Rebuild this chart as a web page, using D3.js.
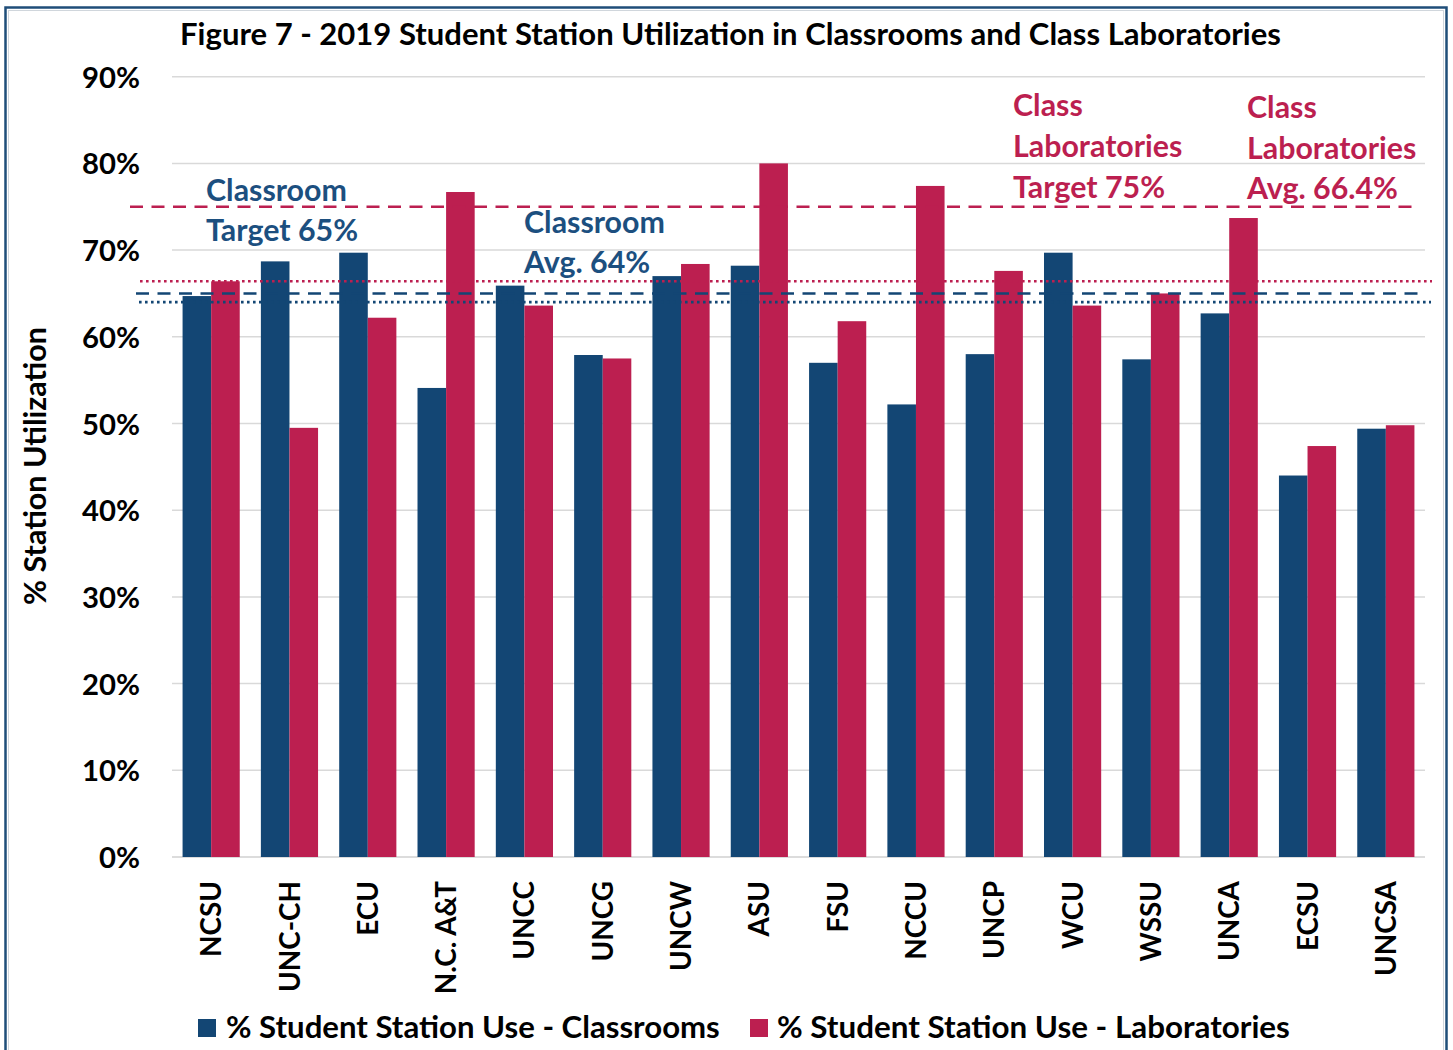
<!DOCTYPE html>
<html>
<head>
<meta charset="utf-8">
<script src="https://cdn.jsdelivr.net/npm/d3@7"></script>
<style>
  html, body { margin: 0; padding: 0; background: #fff; }
  svg text { font-family: Lato, "Open Sans", sans-serif; font-weight: 700; }
</style>
</head>
<body>
<svg id="chart" width="1453" height="1050"></svg>
<script>
const categories = ["NCSU","UNC-CH","ECU","N.C. A&T","UNCC","UNCG","UNCW","ASU","FSU","NCCU","UNCP","WCU","WSSU","UNCA","ECSU","UNCSA"];
const classrooms = [64.7, 68.7, 69.7, 54.1, 65.9, 57.9, 67.0, 68.2, 57.0, 52.2, 58.0, 69.7, 57.4, 62.7, 44.0, 49.4];
const laboratories = [66.4, 49.5, 62.2, 76.7, 63.6, 57.5, 68.4, 80.0, 61.8, 77.4, 67.6, 63.6, 65.0, 73.7, 47.4, 49.8];
const yTicks = [0, 10, 20, 30, 40, 50, 60, 70, 80, 90];
const seriesNames = ["% Student Station Use - Classrooms", "% Student Station Use - Laboratories"];
const refValues = { classroomTarget: 65, classroomAvg: 64, labTarget: 75, labAvg: 66.4 };
const annotations = [
  { lines: ["Classroom", "Target 65%"], color: "blue" },
  { lines: ["Classroom", "Avg. 64%"], color: "blue" },
  { lines: ["Class", "Laboratories", "Target 75%"], color: "red" },
  { lines: ["Class", "Laboratories", "Avg. 66.4%"], color: "red" }
];

const BLUE = "#134674", RED = "#BC1F50", BLUE_TXT = "#1C4F7F", RED_TXT = "#BC1F50";
const svg = d3.select("#chart");

function fit(sel, target) {
  const node = sel.node();
  const fs = parseFloat(sel.attr("font-size"));
  const w = node.getComputedTextLength();
  sel.attr("font-size", fs * target / w);
  return fs * target / w;
}

// frame
svg.append("rect").attr("x", 5.5).attr("y", 7.5).attr("width", 1441).attr("height", 1060)
  .attr("fill", "none").attr("stroke", "#1F4E79").attr("stroke-width", 2.5);
svg.append("rect").attr("x", 8.5).attr("y", 10.5).attr("width", 1435).attr("height", 1060)
  .attr("fill", "none").attr("stroke", "#d0d6dc").attr("stroke-width", 1);

const x0 = 172, x1 = 1425;
const y = d3.scaleLinear().domain([0, 90]).range([857, 76.7]);
const x = d3.scaleBand().domain(categories).range([x0, x1]).paddingInner(0.27).paddingOuter(0.135);
const xs = d3.scaleBand().domain([0, 1]).range([0, x.bandwidth()]);

// title
const title = svg.append("text").attr("x", 730.5).attr("y", 45).attr("text-anchor", "middle")
  .attr("font-size", 28).attr("fill", "#000")
  .text("Figure 7 - 2019 Student Station Utilization in Classrooms and Class Laboratories");
fit(title, 1101);

// gridlines
svg.append("g").selectAll("line").data(yTicks).join("line")
  .attr("x1", x0).attr("x2", x1).attr("y1", d => y(d)).attr("y2", d => y(d))
  .attr("stroke", d => d === 0 ? "#d0d0d0" : "#d9d9d9").attr("stroke-width", 1.5);

// y axis labels
const yAxis = svg.append("g").attr("transform", `translate(140,0)`)
  .call(d3.axisLeft(y).tickValues(yTicks).tickFormat(d => d + "%").tickSize(0).tickPadding(0));
yAxis.select(".domain").remove();
yAxis.selectAll("text").attr("font-family", "Lato").attr("font-weight", 700).attr("fill", "#000")
  .attr("font-size", 30).attr("dy", "0.36em");
const t90 = yAxis.selectAll("text").filter(d => d === 90);
const tickFs = fit(t90, 58);
yAxis.selectAll("text").attr("font-size", tickFs);

// y title
const ytitle = svg.append("text").attr("transform", "translate(46,466) rotate(-90)")
  .attr("text-anchor", "middle").attr("font-size", 26).attr("fill", "#000").text("% Station Utilization");
fit(ytitle, 278);

// bars
const groups = svg.append("g").selectAll("g").data(categories).join("g")
  .attr("transform", d => `translate(${x(d)},0)`);
groups.append("rect").attr("x", xs(0)).attr("width", xs.bandwidth())
  .attr("y", (d, i) => y(classrooms[i])).attr("height", (d, i) => y(0) - y(classrooms[i])).attr("fill", BLUE);
groups.append("rect").attr("x", xs(1)).attr("width", xs.bandwidth())
  .attr("y", (d, i) => y(laboratories[i])).attr("height", (d, i) => y(0) - y(laboratories[i])).attr("fill", RED);

// x labels
const xl = svg.append("g").selectAll("text").data(categories).join("text")
  .attr("text-anchor", "end").attr("font-size", 26).attr("fill", "#000").text(d => d);
const xfs = fit(xl.filter(d => d === "NCSU"), 76);
xl.attr("font-size", xfs)
  .attr("transform", d => `translate(${x(d) + x.bandwidth() / 2 + xfs * 0.36},881) rotate(-90)`);

// reference lines
const refs = [
  { v: refValues.labTarget, c: RED, dash: "13,8.5", xa: 130, xb: 1420 },
  { v: refValues.labAvg, c: RED, dash: "2.6,3.4", xa: 140, xb: 1432 },
  { v: refValues.classroomTarget, c: BLUE, dash: "13,8.5", xa: 136, xb: 1424 },
  { v: refValues.classroomAvg, c: BLUE, dash: "2.6,3.4", xa: 139, xb: 1431 }
];
svg.append("g").selectAll("line").data(refs).join("line")
  .attr("x1", d => d.xa).attr("x2", d => d.xb).attr("y1", d => y(d.v)).attr("y2", d => y(d.v))
  .attr("stroke", d => d.c).attr("stroke-width", 2.6).attr("stroke-dasharray", d => d.dash);

// annotations
const annPos = [
  { x: 206, y: 201, gap: 40 },
  { x: 524, y: 233, gap: 40 },
  { x: 1013, y: 116, gap: 41 },
  { x: 1247, y: 118, gap: 40.5 }
];
const probe = svg.append("text").attr("font-size", 30).text("Classroom");
const annFs = fit(probe, 141);
probe.remove();
annotations.forEach((a, k) => {
  a.lines.forEach((ln, j) => {
    svg.append("text").attr("x", annPos[k].x).attr("y", annPos[k].y + j * annPos[k].gap)
      .attr("font-size", annFs).attr("fill", a.color === "blue" ? BLUE_TXT : RED_TXT).text(ln);
  });
});

// legend
const legendItems = [
  { name: seriesNames[0], c: BLUE, sx: 198, tx: 226, w: 494 },
  { name: seriesNames[1], c: RED, sx: 750, tx: 777, w: 513 }
];
legendItems.forEach(it => {
  svg.append("rect").attr("x", it.sx).attr("y", 1019).attr("width", 18).attr("height", 18).attr("fill", it.c);
  const t = svg.append("text").attr("x", it.tx).attr("y", 1038).attr("font-size", 28).attr("fill", "#000").text(it.name);
  fit(t, it.w);
});
</script>
</body>
</html>
